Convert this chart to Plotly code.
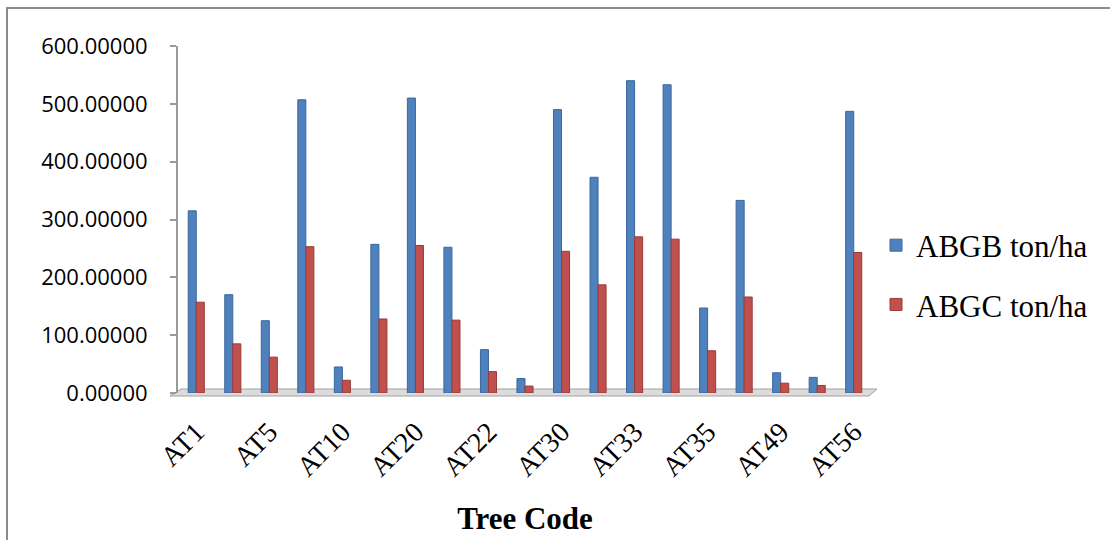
import plotly.graph_objects as go

tick_labels = ["AT1", "AT5", "AT10", "AT20", "AT22", "AT30", "AT33", "AT35", "AT49", "AT56"]
positions = list(range(19))
abgb = [315, 170, 125, 507, 45, 257, 510, 252, 75, 25, 490, 373, 540, 533, 147, 333, 35, 27, 487]
abgc = [157, 85, 62, 253, 22, 128, 255, 126, 37, 12, 245, 187, 270, 266, 73, 166, 17, 13, 243]
tick_positions = positions[::2]

fig = go.Figure()
fig.add_trace(go.Bar(x=positions, y=abgb, name="ABGB ton/ha", legendgroup="a",
                     marker=dict(color="#4F81BD", line=dict(color="#3A679C", width=1))))
fig.add_trace(go.Bar(x=positions, y=abgc, name="ABGC ton/ha", legendgroup="b",
                     marker=dict(color="#C0504D", line=dict(color="#9B3A37", width=1))))

L, R, T, B = 178, 872, 46, 393
W, H = 1110, 540
pw, ph = R - L, B - T

def px(x):
    return (x - L) / pw

def py(y):
    return (B - y) / ph

shapes = [
    dict(type="rect", xref="paper", yref="paper", x0=px(7), x1=px(1125), y0=py(8), y1=py(560),
         line=dict(color="#8c8c8c", width=2), fillcolor="rgba(0,0,0,0)", layer="below"),
    dict(type="path", xref="paper", yref="paper", layer="below",
         path=f"M {px(170)},{py(396)} L {px(869)},{py(396)} L {px(877)},{py(389)} L {px(181)},{py(389)} Z",
         fillcolor="#dcdcdc", line=dict(color="#a0a0a0", width=1)),
]

fig.update_layout(
    width=W, height=H,
    margin=dict(l=L, r=W - R, t=T, b=H - B),
    plot_bgcolor="white", paper_bgcolor="white",
    barmode="group", bargap=0.56, bargroupgap=0,
    showlegend=True,
    legend=dict(x=px(876), y=py(275), xanchor="left", yanchor="middle",
                font=dict(family="Liberation Serif", size=31, color="black"),
                tracegroupgap=16, traceorder="grouped", itemwidth=30),
    shapes=shapes,
    xaxis=dict(range=[-0.5, 18.5], tickmode="array", tickvals=tick_positions, ticktext=tick_labels,
               tickangle=-45, showline=False, showgrid=False, ticks="", zeroline=False,
               automargin=False,
               tickfont=dict(family="Liberation Serif", size=28, color="black"),
               ticklabelstandoff=16,
               title=dict(text="<b>Tree Code</b>", font=dict(family="Liberation Serif", size=31, color="black"),
                          standoff=26)),
    yaxis=dict(range=[0, 600], dtick=100, tickformat=".5f", showgrid=False, zeroline=False,
               showline=True, linecolor="#9a9a9a", linewidth=2, ticks="outside", ticklen=6,
               tickcolor="#9a9a9a", tickwidth=2, automargin=False,
               tickfont=dict(family="Open Sans", size=22, color="black"), ticklabelstandoff=18),
)

fig.write_html("out.html")
